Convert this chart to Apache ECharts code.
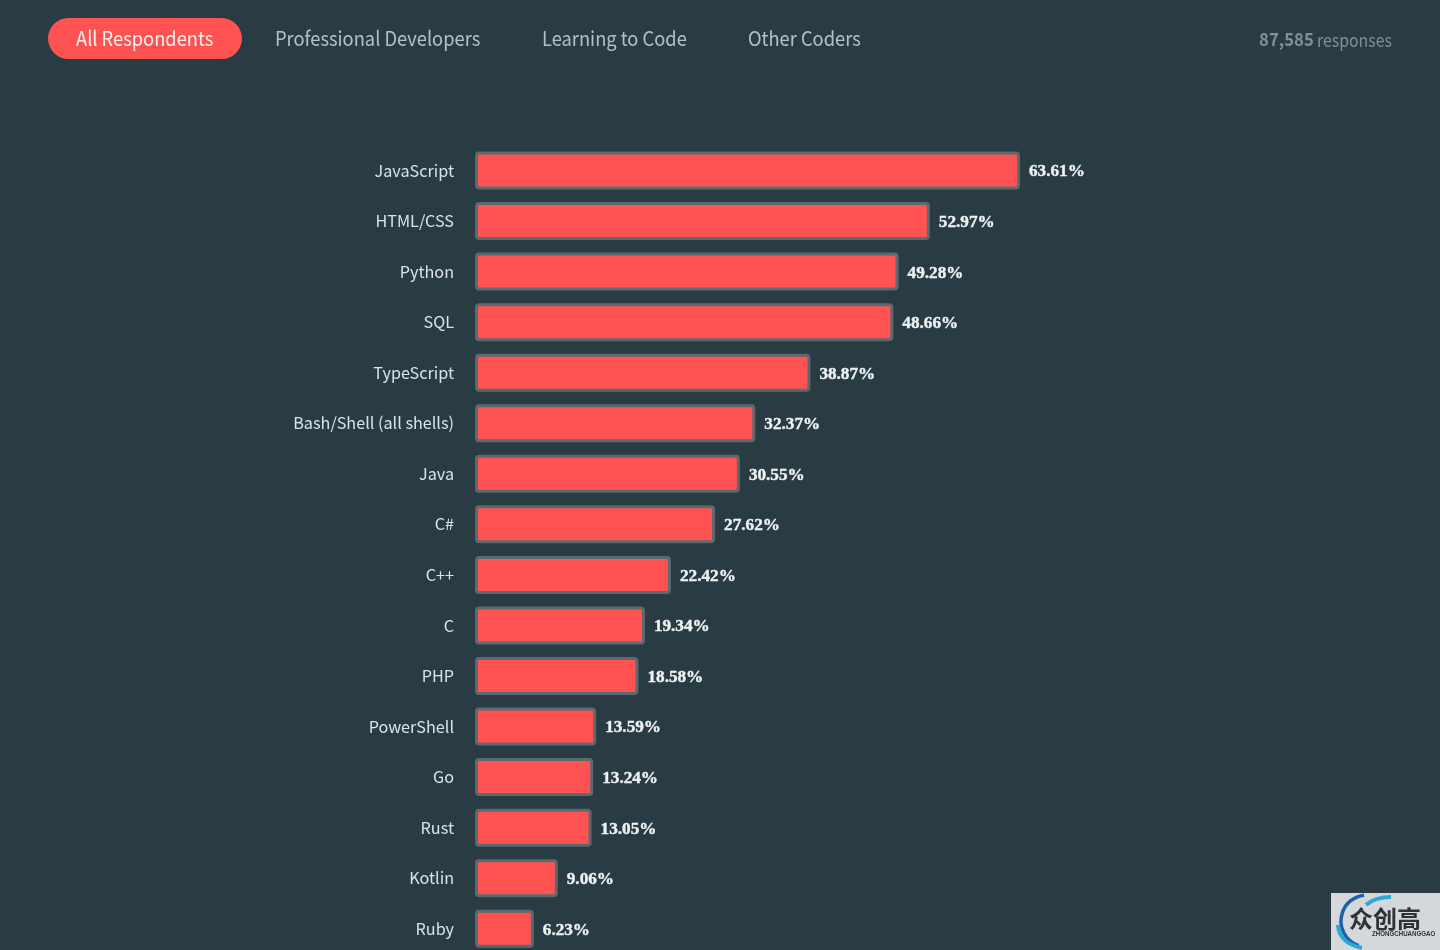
<!DOCTYPE html>
<html><head><meta charset="utf-8">
<style>html,body{margin:0;padding:0;background:#293c43}#c{width:1440px;height:950px}</style>
<script src="https://cdn.jsdelivr.net/npm/echarts@6/dist/echarts.min.js"></script>
</head><body><div id="c"></div>
<script>
const categories = ['JavaScript','HTML/CSS','Python','SQL','TypeScript','Bash/Shell (all shells)','Java','C#','C++','C','PHP','PowerShell','Go','Rust','Kotlin','Ruby'];
const values = [63.61,52.97,49.28,48.66,38.87,32.37,30.55,27.62,22.42,19.34,18.58,13.59,13.24,13.05,9.06,6.23];
const tabs = ['All Respondents','Professional Developers','Learning to Code','Other Coders'];
const FONT = '"Noto Sans CJK SC","Noto Sans",sans-serif';
const chart = echarts.init(document.getElementById('c'), null, {renderer:'canvas'});
const label = (text,x,y,fill,font,scaleX)=>({type:'text',x,y,scaleX:scaleX||1,style:{text,fill,font,verticalAlign:'middle',align:'left'}});
const tabFont = '400 20px '+FONT;
chart.setOption({
  backgroundColor:'#293c43',
  animation:false,
  grid:{left:478,top:145.2,width:847.4,height:808.8,outerBoundsMode:'none'},
  xAxis:{type:'value',min:0,max:100,show:false},
  yAxis:{type:'category',inverse:true,data:categories,
    axisLine:{show:false},axisTick:{show:false},
    axisLabel:{color:'#dbe3e6',fontFamily:FONT,fontSize:16.2,margin:24}},
  series:[
    {type:'custom',silent:true,clip:false,z:1,
     data:values.map((v,i)=>[v,i]),encode:{x:0,y:1},
     renderItem(params,api){
       const end=api.coord([api.value(0),api.value(1)]);
       const start=api.coord([0,api.value(1)]);
       return {type:'rect',
         shape:{x:start[0]-3,y:end[1]-19,width:end[0]-start[0]+6,height:38,r:4},
         style:{fill:'#5c6a6f'}};
     }},
    {type:'bar',data:values,barWidth:32,silent:true,z:2,
     itemStyle:{color:'#ff5353',borderRadius:1},
     label:{show:true,position:'right',distance:12,offset:[0,1.5],formatter:p=>p.value.toFixed(2)+'%',
       color:'#eef2f3',fontFamily:'"Liberation Serif",serif',fontWeight:'bold',fontSize:17.2,
       textBorderColor:'#eef2f3',textBorderWidth:0.4}}
  ],
  graphic:[
    {type:'rect',shape:{x:48,y:18,width:194,height:41,r:20.5},style:{fill:'#ff5353'}},
    label(tabs[0],76,38.5,'#f6f0ee',tabFont,0.915),
    label(tabs[1],275,38.5,'#b3c1c6',tabFont,0.915),
    label(tabs[2],542,38.5,'#b3c1c6',tabFont,0.915),
    label(tabs[3],748,38.5,'#b3c1c6',tabFont,0.915),
    label('87,585',1259,39.5,'#7f9097','bold 18px '+FONT,0.93),
    label('responses',1317,40,'#7f9097','400 18px '+FONT,0.88),
    {type:'rect',shape:{x:1331,y:893,width:109,height:57},style:{fill:'#d5d8da'}},
    {type:'arc',shape:{cx:1367,cy:921,r:26,startAngle:1.9,endAngle:4.6},style:{stroke:'#1f5fa8',lineWidth:3.5,fill:null}},
    {type:'bezierCurve',shape:{x1:1366,y1:905,cpx1:1375,cpy1:897,x2:1391,y2:897},style:{stroke:'#2aa8d8',lineWidth:4,fill:null}},
    {type:'bezierCurve',shape:{x1:1338,y1:925,cpx1:1339,cpy1:943,x2:1362,y2:948},style:{stroke:'#2aa8d8',lineWidth:4,fill:null}},
    label('众创高',1349,919,'#2c3338','bold 24px "Noto Sans CJK SC"'),
    label('ZHONGCHUANGGAO',1372,934.5,'#2c3338','bold 7px "Liberation Sans"',0.88)
  ]
});
</script></body></html>
